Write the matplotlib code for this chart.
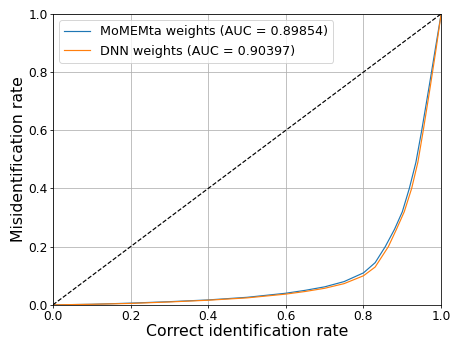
import matplotlib
matplotlib.use("Agg")
import matplotlib.pyplot as plt

# ROC-style curves
x_blue = [0, 0.1, 0.2, 0.3, 0.4, 0.5, 0.6, 0.65, 0.7, 0.75, 0.8, 0.83, 0.856, 0.88, 0.9, 0.918, 0.935, 0.95, 0.969, 0.985, 1.0]
y_blue = [0, 0.002, 0.006, 0.011, 0.017, 0.026, 0.04, 0.05, 0.062, 0.08, 0.11, 0.145, 0.2, 0.26, 0.32, 0.4, 0.49, 0.6, 0.75, 0.88, 1.0]
x_orange = [0, 0.1, 0.2, 0.3, 0.4, 0.5, 0.6, 0.65, 0.7, 0.75, 0.8, 0.83, 0.864, 0.885, 0.905, 0.924, 0.94, 0.954, 0.972, 0.987, 1.0]
y_orange = [0, 0.002, 0.005, 0.010, 0.016, 0.024, 0.037, 0.046, 0.057, 0.073, 0.1, 0.13, 0.2, 0.26, 0.32, 0.4, 0.49, 0.6, 0.75, 0.88, 1.0]
labels = ["MoMEMta weights (AUC = 0.89854)", "DNN weights (AUC = 0.90397)"]

fig, ax = plt.subplots(figsize=(6.4, 4.786), dpi=70.625)
fig.subplots_adjust(left=0.117, right=0.976, bottom=0.098, top=0.959)
ax.plot(x_blue, y_blue, color="#1f77b4", linewidth=1.2, label=labels[0])
ax.plot(x_orange, y_orange, color="#ff7f0e", linewidth=1.2, label=labels[1])
ax.plot([0, 1], [0, 1], "k--", linewidth=1.2)
ax.set_xlim(0, 1)
ax.set_ylim(0, 1)
ax.set_xlabel("Correct identification rate", fontsize=16, labelpad=1)
ax.set_ylabel("Misidentification rate", fontsize=16, labelpad=3)
ax.tick_params(labelsize=12.5, pad=1.5)
ax.grid(True)
ax.legend(loc="upper left", fontsize=13)
fig.savefig("out.png", dpi=70.625)
